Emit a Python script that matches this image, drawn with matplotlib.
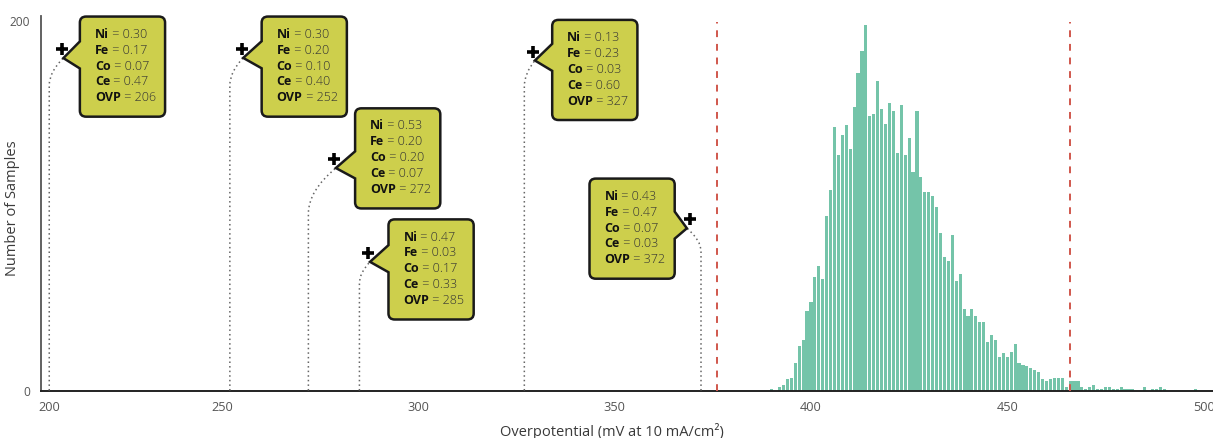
import matplotlib
matplotlib.use("Agg")
import matplotlib.pyplot as plt
from matplotlib.path import Path
from matplotlib.patches import PathPatch

plt.rcParams['font.family'] = ['Open Sans', 'DejaVu Sans']

# histogram: bin centres (mV) and counts
bin_centers = list(range(390, 499))
counts = [
    1, 0, 2, 3, 6, 7, 15, 24, 27, 43,          # 390-399
    48, 61, 67, 60, 94, 108, 142, 127, 138, 143,  # 400-409
    130, 153, 171, 183, 197, 148, 149, 167, 152, 144,  # 410-419
    155, 151, 128, 154, 127, 136, 118, 151, 115, 107,  # 420-429
    107, 105, 99, 85, 72, 70, 84, 59, 63, 44,   # 430-439
    40, 44, 40, 37, 37, 26, 30, 27, 18, 20,     # 440-449
    18, 21, 25, 15, 14, 13, 12, 11, 10, 6,      # 450-459
    5, 6, 7, 7, 7, 2, 5, 5, 5, 2,               # 460-469
    1, 2, 3, 1, 1, 2, 2, 1, 1, 2,               # 470-479
    1, 1, 1, 0, 0, 2, 0, 1, 1, 2,               # 480-489
    1, 0, 0, 0, 0, 0, 0, 0, 1,                  # 490-498
]
bounds = [376, 466]

# highlighted samples
ni = [0.30, 0.30, 0.53, 0.47, 0.13, 0.43]
fe = [0.17, 0.20, 0.20, 0.03, 0.23, 0.47]
co = [0.07, 0.10, 0.20, 0.17, 0.03, 0.07]
ce = [0.47, 0.40, 0.07, 0.33, 0.60, 0.03]
ovp = [206, 252, 272, 285, 327, 372]

# layout of callouts (data coords): plus marker, box left/top, pointer side, bend height
plus_xy = [(209.2, 184.1), (255.0, 184.2), (278.6, 124.8), (287.3, 74.2), (329.3, 182.8), (369.2, 92.7)]
box_lt = [(213.8, 201.7), (260.1, 201.7), (283.9, 152.2), (292.4, 92.3), (334.1, 199.9), (343.6, 114.3)]
side = ['left', 'left', 'left', 'left', 'left', 'right']
bend = [164.6, 164.6, 95.4, 57.6, 164.0, 74.9]
box_w, box_h = 21.7, 54.0

bar_color = '#74c4a9'
box_color = '#cdcf4c'

fig = plt.figure(figsize=(12.13, 4.39), dpi=100)
ax = fig.add_axes([41 / 1213, 47.5 / 439, 1172 / 1213, 374.5 / 439])

ax.bar(bin_centers, counts, width=0.8, color=bar_color, zorder=2)
ax.vlines(bounds, 0, 199, colors='#d0574c', linestyles=(0, (3.5, 3.5)), linewidth=1.4, zorder=3)

rx, ry = 1.6, 3.3  # corner radius in data units


def callout_path(x0, y1, tip, where):
    x1 = x0 + box_w
    y0 = y1 - box_h
    tx, ty = tip
    b_hi, b_lo = ty + 9.0, ty - 5.6
    verts = [(x0 + rx, y1), (x1 - rx, y1), (x1, y1), (x1, y1 - ry)]
    codes = [Path.MOVETO, Path.LINETO, Path.CURVE3, Path.CURVE3]
    if where == 'right':
        verts += [(x1, b_hi), (tx, ty), (x1, b_lo)]
        codes += [Path.LINETO] * 3
    verts += [(x1, y0 + ry), (x1, y0), (x1 - rx, y0), (x0 + rx, y0), (x0, y0), (x0, y0 + ry)]
    codes += [Path.LINETO, Path.CURVE3, Path.CURVE3, Path.LINETO, Path.CURVE3, Path.CURVE3]
    if where == 'left':
        verts += [(x0, b_lo), (tx, ty), (x0, b_hi)]
        codes += [Path.LINETO] * 3
    verts += [(x0, y1 - ry), (x0, y1), (x0 + rx, y1), (x0 + rx, y1)]
    codes += [Path.LINETO, Path.CURVE3, Path.CURVE3, Path.CLOSEPOLY]
    return Path(verts, codes)


for i in range(len(ovp)):
    px, py = plus_xy[i]
    if side[i] == 'left':
        tip = (px + 0.4, py - 4.8)
    else:
        tip = (px - 0.8, py - 5.2)
    # dotted leader from the axis up to the callout
    lead = Path([(ovp[i], 0), (ovp[i], bend[i]), (ovp[i], (bend[i] + tip[1]) / 2), tip],
                [Path.MOVETO, Path.LINETO, Path.CURVE3, Path.CURVE3])
    ax.add_patch(PathPatch(lead, facecolor='none', edgecolor='#666666', linestyle=(0, (1, 2)),
                           linewidth=1.1, zorder=3, clip_on=False))
    ax.add_patch(PathPatch(callout_path(box_lt[i][0], box_lt[i][1], tip, side[i]),
                           facecolor=box_color, edgecolor='#1a1a1a', linewidth=1.8,
                           zorder=4, clip_on=False))
    ax.plot(px, py, marker='+', color='black', markersize=9, markeredgewidth=2.6, zorder=6, clip_on=False)

    rows = [('Ni', f'{ni[i]:.2f}'), ('Fe', f'{fe[i]:.2f}'), ('Co', f'{co[i]:.2f}'),
            ('Ce', f'{ce[i]:.2f}'), ('OVP', f'{ovp[i]}')]
    for j, (name, val) in enumerate(rows):
        t = ax.annotate(name, xy=box_lt[i], xytext=(10.8, -12.0 - 11.45 * j), textcoords='offset points',
                        fontsize=9, fontweight='bold', color='#111111', ha='left', va='center',
                        zorder=7, annotation_clip=False)
        ax.annotate(f' = {val}', xy=(1, 0), xycoords=t, fontsize=9, fontweight='light', color='#333333',
                    ha='left', va='bottom', zorder=7, annotation_clip=False)

ax.set_xlim(203.9, 502.4)
ax.set_ylim(0, 202)
ax.set_xticks([205.9, 250, 300, 350, 400, 450, 500])
ax.set_xticklabels(['200', '250', '300', '350', '400', '450', '500'])
ax.set_yticks([0, 200])
ax.tick_params(axis='x', length=0, pad=7, labelsize=9.2, labelcolor='#555555')
ax.tick_params(axis='y', length=0, pad=8, labelsize=8.6, labelcolor='#555555')

for s in ['top', 'right']:
    ax.spines[s].set_visible(False)
ax.spines['left'].set_color('#555555')
ax.spines['left'].set_linewidth(1.3)
ax.spines['bottom'].set_color('#222222')
ax.spines['bottom'].set_linewidth(1.4)

ax.set_xlabel('Overpotential (mV at 10 mA/cm²)', fontsize=10.5, color='#3a3a3a')
ax.xaxis.set_label_coords(0.487, -0.085)
ax.set_ylabel('Number of Samples', fontsize=10.5, color='#3a3a3a')
ax.yaxis.set_label_coords(-0.0175, 0.49)

fig.savefig('out.png', dpi=100)
